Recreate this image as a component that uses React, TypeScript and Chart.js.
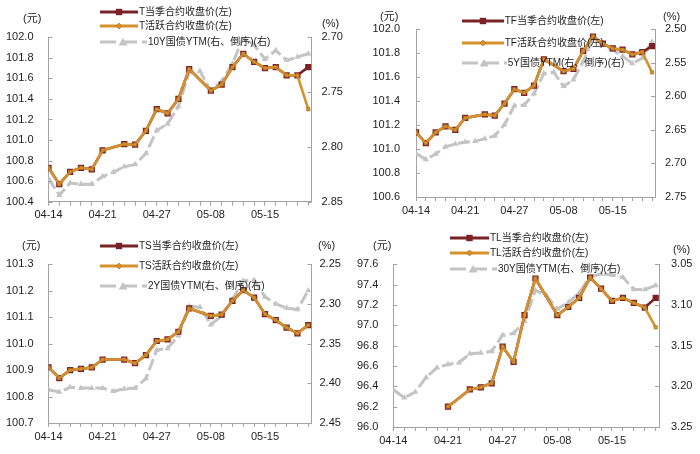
import React, { useEffect, useRef } from 'react';
import { Chart, registerables } from 'chart.js';

Chart.register(...registerables);

// ---------- data ----------
const dates = ['04-14','04-17','04-18','04-19','04-20','04-21','04-23','04-24','04-25','04-26','04-27','04-28','05-04','05-05','05-06','05-08','05-09','05-10','05-11','05-12','05-15','05-16','05-17','05-18','05-19'];

const tQuarter = [100.73,100.57,100.69,100.73,100.715,100.90,null,100.96,100.955,101.09,101.30,101.26,101.40,101.69,null,101.48,101.54,101.71,101.84,101.76,101.70,101.71,101.63,101.63,101.71];
const tActive  = [100.73,100.57,100.69,100.73,100.715,100.90,null,100.96,100.955,101.09,101.30,101.26,101.40,101.69,null,101.48,101.54,101.71,101.84,101.76,101.70,101.71,101.63,101.63,101.30];
const y10 = [2.829,2.844,2.833,2.834,2.834,2.827,2.823,2.818,2.816,2.806,2.785,2.779,2.763,2.732,2.731,2.749,2.740,2.724,2.700,2.707,2.720,2.712,2.721,2.718,2.715];

const tfQuarter = [101.14,101.05,101.14,101.19,101.16,101.26,null,101.29,101.28,101.38,101.50,101.47,101.53,101.75,null,101.65,101.67,101.82,101.94,101.88,101.84,101.83,101.79,101.81,101.86];
const tfActive  = [101.14,101.05,101.14,101.19,101.16,101.26,null,101.29,101.28,101.38,101.50,101.47,101.53,101.75,null,101.65,101.67,101.82,101.94,101.88,101.84,101.83,101.79,101.81,101.64];
const y5 = [2.685,2.694,2.686,2.675,2.671,2.668,2.667,2.663,2.659,2.642,2.614,2.613,2.596,2.566,2.564,2.585,2.575,2.548,2.513,2.523,2.531,2.540,2.551,2.543,2.519];

const tsQuarter = [100.91,100.87,100.90,100.905,100.91,100.94,null,100.94,100.926,100.957,101.01,101.016,101.045,101.133,null,101.105,101.11,101.162,101.202,101.174,101.112,101.089,101.061,101.039,101.07];
const tsActive  = [100.91,100.87,100.90,100.905,100.91,100.94,null,100.94,100.926,100.957,101.01,101.016,101.045,101.133,null,101.105,101.11,101.162,101.202,101.174,101.112,101.089,101.061,101.039,101.07];
const y2 = [2.408,2.411,2.405,2.406,2.406,2.406,2.410,2.407,2.406,2.394,2.358,2.356,2.340,2.303,2.304,2.326,2.315,2.294,2.271,2.270,2.291,2.300,2.305,2.307,2.283];

const tlQuarter = [null,null,null,null,null,96.20,null,96.37,96.39,96.43,96.79,96.64,97.10,97.46,null,97.10,97.18,97.27,97.47,97.36,97.24,97.27,97.22,97.175,97.27];
const tlActive  = [null,null,null,null,null,96.20,null,96.37,96.39,96.43,96.79,96.64,97.10,97.46,null,97.10,97.18,97.27,97.47,97.36,97.24,97.27,97.22,97.175,96.98];
const y30 = [3.204,3.214,3.207,3.189,3.177,3.173,3.171,3.160,3.159,3.157,3.137,3.135,3.120,3.082,3.088,3.105,3.097,3.085,3.065,3.062,3.063,3.066,3.081,3.081,3.076];

// ---------- styles ----------
const MAROON = '#7b2226';
const ORANGE = '#d6912c';
const GRAY = '#c4c4c4';
const AXIS = '#a3a3a3';
const TEXT = '#1e1e1e';
const FONT = "'Liberation Sans', Arial, 'Noto Sans CJK SC', sans-serif";
const W = 350;
const H = 227;

type Axis = { min: number; max: number; step: number; dec: number; pad: number };
type PanelCfg = {
  x: number; y: number;
  names: string[];
  quarter: (number | null)[]; active: (number | null)[]; yld: number[];
  left: Axis; right: Axis;
  g: { left: number; right: number; top: number; bottom: number; xmax: number };
  legend: { x: number; ys: number[]; sw: number; gw: number };
  unitL: { x: number; y: number }; unitR: { x: number; y: number };
};

const panels: PanelCfg[] = [
  {
    x: 0, y: 0,
    names: ['T当季合约收盘价(左)', 'T活跃合约收盘价(左)', '10Y国债YTM(右、倒序)(右)'],
    quarter: tQuarter, active: tActive, yld: y10,
    left: { min: 100.4, max: 102.0, step: 0.2, dec: 1, pad: 15 },
    right: { min: 2.70, max: 2.85, step: 0.05, dec: 2, pad: 10 },
    g: { left: 48.5, right: 311.5, top: 37.3, bottom: 201.7, xmax: 24.3 },
    legend: { x: 100, ys: [11.7, 26, 42.3], sw: 38, gw: 47 },
    unitL: { x: 23, y: 17.5 }, unitR: { x: 322, y: 22.5 },
  },
  {
    x: 350, y: 0,
    names: ['TF当季合约收盘价(左)', 'TF活跃合约收盘价(左)', '5Y国债YTM(右、倒序)(右)'],
    quarter: tfQuarter, active: tfActive, yld: y5,
    left: { min: 100.6, max: 102.0, step: 0.2, dec: 1, pad: 16 },
    right: { min: 2.50, max: 2.75, step: 0.05, dec: 2, pad: 10 },
    g: { left: 66, right: 305, top: 29.3, bottom: 197, xmax: 24.3 },
    legend: { x: 111.7, ys: [20.7, 42.7, 63.3], sw: 42, gw: 45 },
    unitL: { x: 30, y: 16 }, unitR: { x: 313, y: 16 },
  },
  {
    x: 0, y: 227,
    names: ['TS当季合约收盘价(左)', 'TS活跃合约收盘价(左)', '2Y国债YTM(右、倒序)(右)'],
    quarter: tsQuarter, active: tsActive, yld: y2,
    left: { min: 100.7, max: 101.3, step: 0.1, dec: 1, pad: 15 },
    right: { min: 2.25, max: 2.45, step: 0.05, dec: 2, pad: 8 },
    g: { left: 48.5, right: 311.5, top: 37.3, bottom: 196, xmax: 24.3 },
    legend: { x: 100, ys: [19, 39, 59], sw: 38, gw: 47 },
    unitL: { x: 22, y: 17.5 }, unitR: { x: 318, y: 17.5 },
  },
  {
    x: 350, y: 227,
    names: ['TL当季合约收盘价(左)', 'TL活跃合约收盘价(左)', '30Y国债YTM(右、倒序)(右)'],
    quarter: tlQuarter, active: tlActive, yld: y30,
    left: { min: 96.0, max: 97.6, step: 0.2, dec: 1, pad: 15 },
    right: { min: 3.05, max: 3.25, step: 0.05, dec: 2, pad: 12 },
    g: { left: 43.3, right: 309, top: 37.3, bottom: 200, xmax: 24.3 },
    legend: { x: 100, ys: [11, 26, 42.3], sw: 39, gw: 47 },
    unitL: { x: 23, y: 17.5 }, unitR: { x: 323, y: 21.7 },
  },
];

// inward tick marks on both value axes
const inwardTicks = {
  id: 'inwardTicks',
  afterDraw(chart: any) {
    const ctx = chart.ctx;
    const { left, right } = chart.chartArea;
    ctx.save();
    ctx.strokeStyle = AXIS;
    ctx.lineWidth = 1;
    ['yL', 'yR'].forEach((id) => {
      const s = chart.scales[id];
      if (!s) return;
      s.ticks.forEach((t: any) => {
        const py = Math.round(s.getPixelForValue(t.value)) + 0.5;
        ctx.beginPath();
        if (id === 'yL') { ctx.moveTo(left, py); ctx.lineTo(left + 4, py); }
        else { ctx.moveTo(right, py); ctx.lineTo(right - 4, py); }
        ctx.stroke();
      });
    });
    ctx.restore();
  },
};

const toXY = (arr: (number | null)[]) => arr.map((v, i) => ({ x: i, y: v }));

function Panel({ cfg }: { cfg: PanelCfg }) {
  const ref = useRef<HTMLCanvasElement | null>(null);
  useEffect(() => {
    if (!ref.current) return;
    const g = cfg.g;
    const chart = new Chart(ref.current, {
      type: 'line',
      data: {
        datasets: [
          {
            label: cfg.names[1], data: toXY(cfg.active) as any, yAxisID: 'yL', order: 0,
            borderColor: ORANGE, borderWidth: 2.6, backgroundColor: ORANGE,
            pointStyle: 'rect', pointRadius: 2.4, pointBorderWidth: 0.6, pointBorderColor: '#b06e1c',
            pointBackgroundColor: ORANGE, spanGaps: true, tension: 0,
          },
          {
            label: cfg.names[0], data: toXY(cfg.quarter) as any, yAxisID: 'yL', order: 1,
            borderColor: MAROON, borderWidth: 2.6, backgroundColor: MAROON,
            pointStyle: 'rect', pointRadius: 4.4, pointBorderWidth: 0,
            pointBackgroundColor: MAROON, spanGaps: true, tension: 0,
          },
          {
            label: cfg.names[2], data: toXY(cfg.yld) as any, yAxisID: 'yR', order: 2,
            borderColor: GRAY, borderWidth: 3, borderDash: [12, 4], backgroundColor: GRAY,
            pointStyle: 'triangle', pointRadius: 3.6, pointBorderWidth: 0,
            pointBackgroundColor: GRAY, spanGaps: true, tension: 0,
          },
        ],
      },
      options: {
        responsive: false,
        animation: false,
        events: [],
        layout: { padding: { top: g.top, left: 0, right: 0, bottom: 0 } },
        plugins: { legend: { display: false }, tooltip: { enabled: false } },
        scales: {
          x: {
            type: 'linear', min: 0, max: g.xmax,
            afterFit: (s: any) => { s.height = H - g.bottom; },
            ticks: {
              stepSize: 1, maxTicksLimit: 40, autoSkip: false, includeBounds: false,
              maxRotation: 0, minRotation: 0, padding: 3, color: TEXT,
              font: { family: FONT, size: 11 },
              callback: (v: any) => (Number.isInteger(v) && v % 5 === 0 && dates[v] ? dates[v] : ''),
            },
            grid: { display: true, drawOnChartArea: false, drawTicks: true, tickLength: 4, color: AXIS },
            border: { display: true, color: AXIS, width: 1 },
          },
          yL: {
            type: 'linear', position: 'left', min: cfg.left.min, max: cfg.left.max,
            afterFit: (s: any) => { s.width = g.left; },
            ticks: {
              stepSize: cfg.left.step, padding: cfg.left.pad, color: TEXT,
              font: { family: FONT, size: 11 },
              callback: (v: any) => Number(v).toFixed(cfg.left.dec),
            },
            grid: { display: true, drawOnChartArea: false, drawTicks: false },
            border: { display: true, color: AXIS, width: 1 },
          },
          yR: {
            type: 'linear', position: 'right', reverse: true, min: cfg.right.min, max: cfg.right.max,
            afterFit: (s: any) => { s.width = W - g.right; },
            ticks: {
              stepSize: cfg.right.step, padding: cfg.right.pad, color: TEXT,
              font: { family: FONT, size: 11 },
              callback: (v: any) => Number(v).toFixed(cfg.right.dec),
            },
            grid: { display: true, drawOnChartArea: false, drawTicks: false },
            border: { display: true, color: AXIS, width: 1 },
          },
        },
      } as any,
      plugins: [inwardTicks],
    });
    return () => chart.destroy();
  }, [cfg]);

  const lg = cfg.legend;
  const textStyle: React.CSSProperties = { fontSize: 10, color: TEXT, fontFamily: FONT, whiteSpace: 'nowrap', lineHeight: '14px', marginLeft: 1 };
  const rowStyle = (y: number): React.CSSProperties => ({ position: 'absolute', left: lg.x, top: y - 7, height: 14, display: 'flex', alignItems: 'center' });
  const unitStyle = (u: { x: number; y: number }): React.CSSProperties => ({ position: 'absolute', left: u.x, top: u.y - 8, lineHeight: '16px', fontSize: 11, color: TEXT, fontFamily: FONT, whiteSpace: 'nowrap' });

  return (
    <div style={{ position: 'absolute', left: cfg.x, top: cfg.y, width: W, height: H }}>
      <canvas ref={ref} width={W} height={H} style={{ position: 'absolute', left: 0, top: 0, width: W, height: H, display: 'block' }} />
      <span style={unitStyle(cfg.unitL)}>(元)</span>
      <span style={unitStyle(cfg.unitR)}>(%)</span>
      <div style={rowStyle(lg.ys[0])}>
        <svg width={lg.sw} height={10} style={{ display: 'block' }}>
          <line x1={0} y1={5} x2={lg.sw} y2={5} stroke={MAROON} strokeWidth={3} />
          <rect x={lg.sw / 2 - 3.2} y={1.8} width={6.4} height={6.4} fill={MAROON} />
        </svg>
        <span style={textStyle}>{cfg.names[0]}</span>
      </div>
      <div style={rowStyle(lg.ys[1])}>
        <svg width={lg.sw} height={10} style={{ display: 'block' }}>
          <line x1={0} y1={5} x2={lg.sw} y2={5} stroke={ORANGE} strokeWidth={3} />
          <polygon points={`${lg.sw / 2},2 ${lg.sw / 2 + 3},5 ${lg.sw / 2},8 ${lg.sw / 2 - 3},5`} fill={ORANGE} stroke="#b06e1c" strokeWidth={0.6} />
        </svg>
        <span style={textStyle}>{cfg.names[1]}</span>
      </div>
      <div style={rowStyle(lg.ys[2])}>
        <svg width={lg.gw} height={10} style={{ display: 'block' }}>
          <line x1={0} y1={5} x2={lg.gw} y2={5} stroke={GRAY} strokeWidth={3} strokeDasharray="16 5" />
          <polygon points={`${lg.gw / 2 - 5},8.5 ${lg.gw / 2 + 4},8.5 ${lg.gw / 2 - 0.5},1`} fill={GRAY} />
        </svg>
        <span style={textStyle}>{cfg.names[2]}</span>
      </div>
    </div>
  );
}

export default function App() {
  return (
    <div style={{ position: 'absolute', left: 0, top: 0, width: 700, height: 454, background: '#ffffff', overflow: 'hidden' }}>
      {panels.map((p, i) => (
        <Panel key={i} cfg={p} />
      ))}
    </div>
  );
}
